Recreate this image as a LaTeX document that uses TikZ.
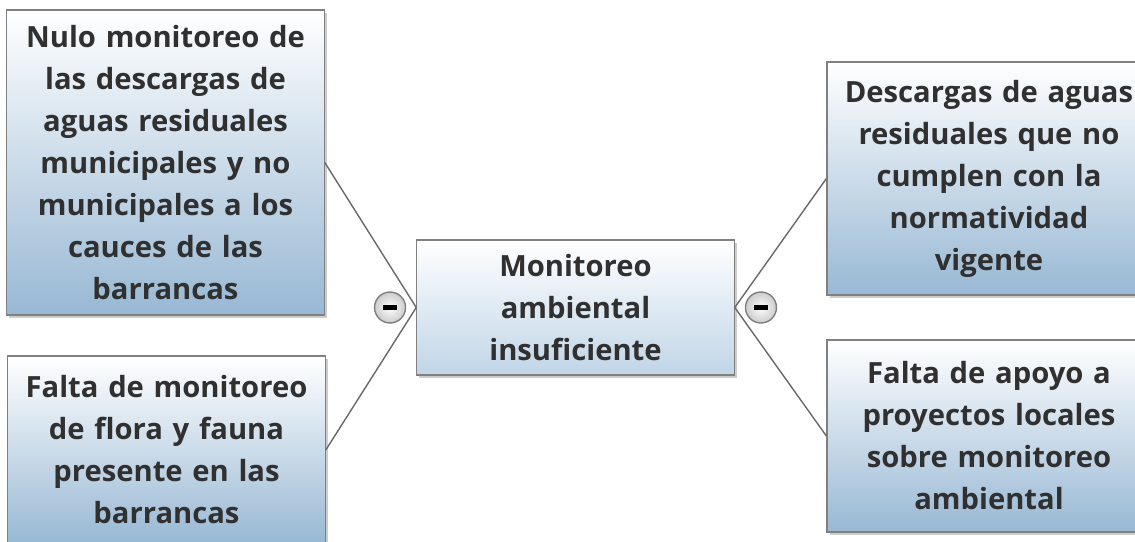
\documentclass[tikz,border=0pt]{standalone}
\usepackage{fontspec}
\setmainfont{Open Sans}
\usetikzlibrary{positioning, shadows}
\definecolor{boxline}{RGB}{128,128,128}
\definecolor{boxblue}{RGB}{152,184,212}
\definecolor{boxlight}{RGB}{192,213,231}
\definecolor{txtgray}{RGB}{48,48,48}
\definecolor{linkgray}{RGB}{105,105,105}
\tikzset{
  topic/.style={rectangle, minimum width=157.5pt, text width=152pt, align=center, draw=boxline, top color=white, bottom color=boxblue, font=\bfseries\fontsize{14.6}{21}\selectfont, text=txtgray, line width=0.6pt, drop shadow={shadow xshift=1.3pt, shadow yshift=-1.3pt, fill=black!40}},
  central/.style={topic, bottom color=boxlight},
  link/.style={draw=linkgray, line width=0.7pt},
  toggle/.style={circle, minimum size=15.5pt, inner sep=0pt, draw=boxline, inner color=white, outer color=black!20, line width=0.7pt},
}

\begin{document}
\begin{tikzpicture}[x=0.5pt, y=-0.5pt]
\clip (0,0) rectangle (1135,541);
\node (mon)   [central, minimum height=67.5pt] at (575.5,307.5) {Monitoreo\\ambiental\\insuficiente};
\node (nulo)  [topic, minimum height=152.5pt] at (165.5,162.5) {Nulo monitoreo de\\las descargas de\\aguas residuales\\municipales y no\\municipales a los\\cauces de las\\barrancas};
\node (flora) [topic, minimum height=94pt] at (166.5,450) {Falta de monitoreo\\de flora y fauna\\presente en las\\barrancas};
\node (desc)  [topic, minimum width=162pt, minimum height=116.5pt] at (989,178.5) {Descargas de aguas\\residuales que no\\cumplen con la\\normatividad\\vigente};
\node (apoyo) [topic, minimum width=162pt, minimum height=96pt] at (989,436) {Falta de apoyo a\\proyectos locales\\sobre monitoreo\\ambiental};
\draw[link] (mon.west) -- (nulo.east);
\draw[link] (mon.west) -- (flora.east);
\draw[link] (mon.east) -- (desc.west);
\draw[link] (mon.east) -- (apoyo.west);
\node (tglL) [toggle, left=5pt of mon] {\rule{7pt}{2.5pt}};
\node (tglR) [toggle, right=5pt of mon] {\rule{7pt}{2.5pt}};
\end{tikzpicture}
\end{document}
